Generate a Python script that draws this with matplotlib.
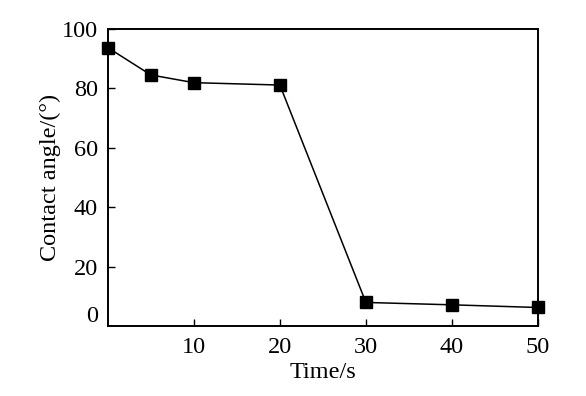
import matplotlib.pyplot as plt
from matplotlib.transforms import ScaledTranslation

# contact angle vs treatment time
time_s = [0, 5, 10, 20, 30, 40, 50]
angle = [93.7, 84.5, 81.9, 81.1, 7.9, 7.1, 6.2]
x_ticks = [10, 20, 30, 40, 50]
y_ticks = [0, 20, 40, 60, 80, 100]

plt.rcParams['font.family'] = ['Liberation Serif', 'DejaVu Serif']

fig = plt.figure(figsize=(5.86, 3.96), dpi=100)
ax = fig.add_axes([0.184, 0.177, 0.734, 0.750])

ax.plot(time_s, angle, 'k-', lw=1.1, marker='s', ms=8, clip_on=False, zorder=3)

ax.set_xlim(0, 50)
ax.set_ylim(0, 100)
ax.set_xticks(x_ticks)
ax.set_yticks(y_ticks)
ax.tick_params(direction='in', length=5, width=1, labelsize=17.5)
ax.tick_params(axis='y', pad=7)
ax.tick_params(axis='x', pad=8)
for s in ax.spines.values():
    s.set_linewidth(1.4)

# lift the "0" label like the original and hide its tick
lab0 = ax.get_yticklabels()[0]
lab0.set_transform(lab0.get_transform() + ScaledTranslation(0, 12 / 100, fig.dpi_scale_trans))
ax.yaxis.get_major_ticks()[0].tick1line.set_visible(False)

ax.set_xlabel('Time/s', fontsize=17.5, labelpad=3)
ax.set_ylabel('Contact angle/(°)', fontsize=17.5, labelpad=1)

fig.savefig('out.png', dpi=100)
